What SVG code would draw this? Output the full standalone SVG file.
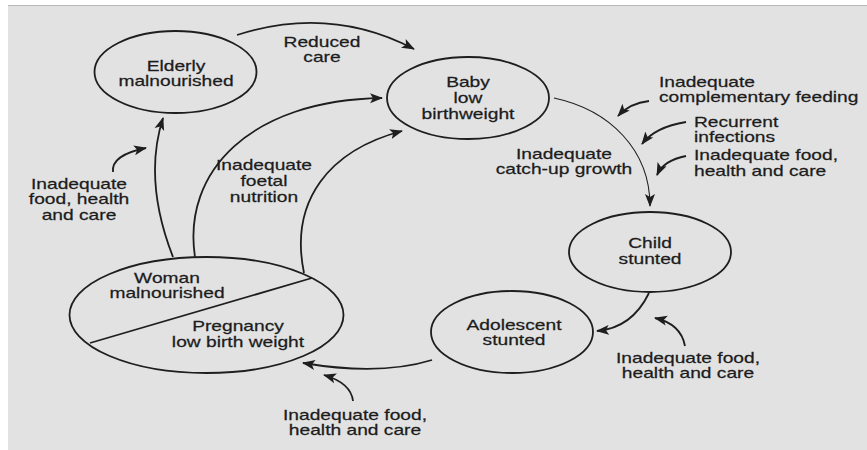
<svg xmlns="http://www.w3.org/2000/svg" width="867" height="450" viewBox="0 0 867 450">
<style>
.n{fill:none;stroke:#1e1e1e;stroke-width:1.8}
.c{fill:none;stroke:#1e1e1e;stroke-width:1.8}
.thin{stroke-width:1.1}
text{font-family:"Liberation Sans",Arial,sans-serif;font-size:15px;fill:#1c1c1c;stroke:#1c1c1c;stroke-width:0.25}
.m{text-anchor:middle}
.s{text-anchor:start}
</style>
<defs>
<marker id="ah" markerUnits="userSpaceOnUse" markerWidth="14" markerHeight="12" refX="12" refY="5" orient="auto" viewBox="0 0 14 10">
<path d="M0,0 L13,5 L0,10 L3,5 z" fill="#1e1e1e"/>
</marker>
</defs>
<rect x="0" y="0" width="867" height="450" fill="#ffffff"/>
<rect x="8" y="5" width="859" height="445" fill="#e2e2e2"/>
<line x1="8" y1="5.5" x2="867" y2="5.5" stroke="#b8b8b8" stroke-width="1"/>

<g id="elderly">
<ellipse class="n" cx="175.5" cy="72" rx="81" ry="41"/>
<text class="m" transform="translate(176,70.5) scale(1.28,1)"><tspan x="0" y="0">Elderly</tspan><tspan x="0" y="16">malnourished</tspan></text>
</g>

<g id="baby">
<ellipse class="n" cx="468" cy="98" rx="81" ry="41"/>
<text class="m" transform="translate(468,87) scale(1.28,1)"><tspan x="0" y="0">Baby</tspan><tspan x="0" y="16">low</tspan><tspan x="0" y="32">birthweight</tspan></text>
</g>

<g id="child">
<ellipse class="n" cx="650" cy="252" rx="81" ry="40"/>
<text class="m" transform="translate(650,248) scale(1.28,1)"><tspan x="0" y="0">Child</tspan><tspan x="0" y="16">stunted</tspan></text>
</g>

<g id="adolescent">
<ellipse class="n" cx="512" cy="332" rx="81" ry="41"/>
<text class="m" transform="translate(514,329.5) scale(1.28,1)"><tspan x="0" y="0">Adolescent</tspan><tspan x="0" y="16">stunted</tspan></text>
</g>

<g id="woman">
<ellipse class="n" cx="206.5" cy="315" rx="137" ry="58"/>
<line class="n" x1="90" y1="343" x2="312" y2="278"/>
<text class="m" transform="translate(167,282.5) scale(1.28,1)"><tspan x="0" y="0">Woman</tspan><tspan x="0" y="16">malnourished</tspan></text>
<text class="m" transform="translate(238,331) scale(1.28,1)"><tspan x="0" y="0">Pregnancy</tspan><tspan x="0" y="16">low birth weight</tspan></text>
</g>

<g id="connectors">
<path class="c" d="M237,35 Q330,5 414,49" marker-end="url(#ah)"/>
<path class="c" d="M173,257 Q143,180 163,118" marker-end="url(#ah)"/>
<path class="c" d="M195,257 C182,172 250,100 382,98" marker-end="url(#ah)"/>
<path class="c" d="M304,273 C289,200 330,150 402,131" marker-end="url(#ah)"/>
<path class="c thin" d="M554,98 C610,110 650,150 650,206" marker-end="url(#ah)"/>
<path class="c" d="M649,293 Q632,328 597,331" marker-end="url(#ah)"/>
<path class="c" d="M432,360 Q380,376 303,363" marker-end="url(#ah)"/>
<path class="c" d="M113,172 Q111,155 146,148" marker-end="url(#ah)"/>
<path class="c" d="M649,101 Q630,103 618,116" marker-end="url(#ah)"/>
<path class="c" d="M686,122 Q655,127 642,144" marker-end="url(#ah)"/>
<path class="c" d="M686,156 Q664,160 657,175" marker-end="url(#ah)"/>
<path class="c" d="M685,346 Q681,324 655,318" marker-end="url(#ah)"/>
<path class="c" d="M353,401 Q351,383 324,375" marker-end="url(#ah)"/>
</g>

<g id="labels">
<text class="m" transform="translate(322,46.5) scale(1.28,1)"><tspan x="0" y="0">Reduced</tspan><tspan x="0" y="16">care</tspan></text>
<text class="m" transform="translate(264,170) scale(1.28,1)"><tspan x="0" y="0">Inadequate</tspan><tspan x="0" y="16">foetal</tspan><tspan x="0" y="32">nutrition</tspan></text>
<text class="m" transform="translate(79,188.5) scale(1.28,1)"><tspan x="0" y="0">Inadequate</tspan><tspan x="0" y="16">food, health</tspan><tspan x="0" y="32">and care</tspan></text>
<text class="s" transform="translate(659,86.5) scale(1.28,1)"><tspan x="0" y="0">Inadequate</tspan><tspan x="0" y="16">complementary feeding</tspan></text>
<text class="s" transform="translate(694,126.5) scale(1.28,1)"><tspan x="0" y="0">Recurrent</tspan><tspan x="0" y="16">infections</tspan></text>
<text class="s" transform="translate(694,160) scale(1.28,1)"><tspan x="0" y="0">Inadequate food,</tspan><tspan x="0" y="16">health and care</tspan></text>
<text class="m" transform="translate(564,158.5) scale(1.28,1)"><tspan x="0" y="0">Inadequate</tspan><tspan x="0" y="16">catch-up growth</tspan></text>
<text class="m" transform="translate(688,362.5) scale(1.28,1)"><tspan x="0" y="0">Inadequate food,</tspan><tspan x="0" y="16">health and care</tspan></text>
<text class="m" transform="translate(355,419.5) scale(1.28,1)"><tspan x="0" y="0">Inadequate food,</tspan><tspan x="0" y="16">health and care</tspan></text>
</g>
</svg>
